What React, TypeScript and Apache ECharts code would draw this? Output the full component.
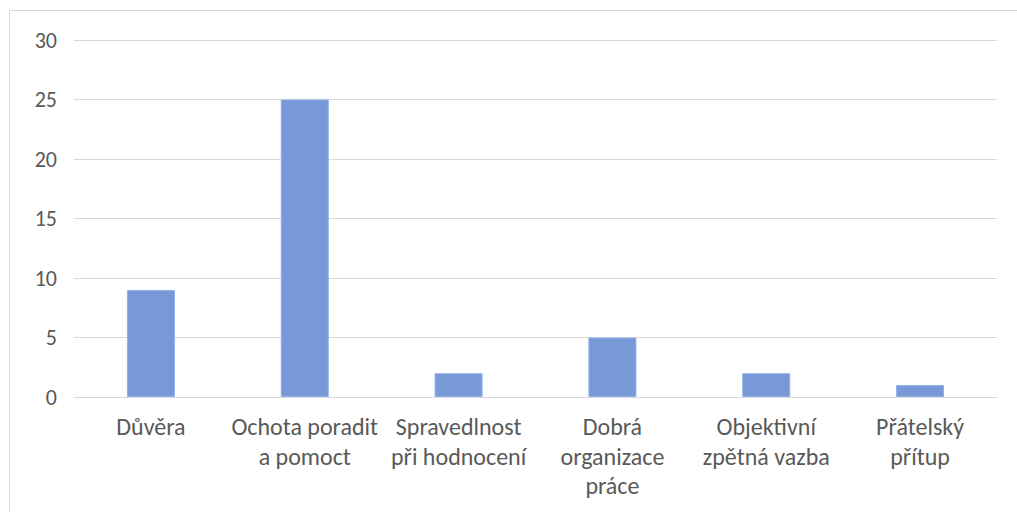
import React, { useEffect, useRef } from "react";
import * as echarts from "echarts";

const categories = [
  "Důvěra",
  "Ochota poradit\na pomoct",
  "Spravedlnost\npři hodnocení",
  "Dobrá\norganizace\npráce",
  "Objektivní\nzpětná vazba",
  "Přátelský\npřítup",
];
const values = [9, 25, 2, 5, 2, 1];
const yTicks = { min: 0, max: 30, interval: 5 };

export default function App() {
  const ref = useRef<HTMLDivElement>(null);
  useEffect(() => {
    if (!ref.current) return;
    const chart = echarts.init(ref.current, undefined, { renderer: "svg" });
    const font = "Carlito, Lato, 'Liberation Sans', sans-serif";
    chart.setOption({
      animation: false,
      backgroundColor: "#ffffff",
      graphic: [
        {
          type: "rect",
          shape: { x: 9.5, y: 10.5, width: 1020, height: 520 },
          style: { fill: "none", stroke: "#d9d9d9", lineWidth: 1 },
          silent: true,
        },
      ],
      grid: { left: 74, right: 20, top: 40, bottom: 115, containLabel: false },
      xAxis: {
        type: "category",
        data: categories,
        axisLine: { show: true, lineStyle: { color: "#d9d9d9", width: 1 } },
        axisTick: { show: false },
        axisLabel: {
          color: "#595959",
          fontSize: 24,
          fontFamily: font,
          lineHeight: 29.5,
          margin: 15,
          interval: 0,
          verticalAlign: "top",
        },
      },
      yAxis: {
        type: "value",
        min: yTicks.min,
        max: yTicks.max,
        interval: yTicks.interval,
        axisLine: { show: false },
        axisTick: { show: false },
        splitLine: { lineStyle: { color: "#d9d9d9", width: 1 } },
        axisLabel: {
          color: "#595959",
          fontSize: 22,
          fontFamily: font,
          margin: 17,
        },
      },
      series: [
        {
          type: "bar",
          data: values,
          barWidth: 48,
          itemStyle: { color: "#7799d7", borderColor: "#8fb0e8", borderWidth: 1 },
        },
      ],
    });
    return () => chart.dispose();
  }, []);
  return (
    <div
      ref={ref}
      style={{ position: "fixed", left: 0, top: 0, width: 1017, height: 512 }}
    />
  );
}
